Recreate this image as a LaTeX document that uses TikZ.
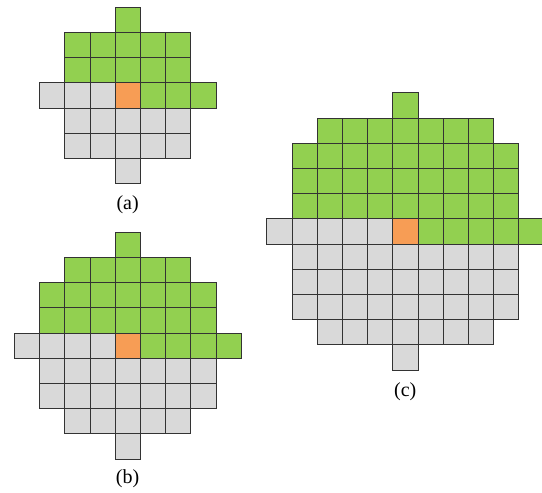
\documentclass[tikz,border=0pt]{standalone}
\usepackage{fontspec}
\setmainfont{Liberation Serif}
\definecolor{cgreen}{HTML}{92D050}
\definecolor{corange}{HTML}{F79D55}
\definecolor{cgray}{HTML}{D9D9D9}
\newcommand\cellrow[6]{%
  \foreach \c in {#4,...,#5}
    \draw[cellbox,fill=#6] ({#1+\c*25.2},{#2+#3*25.2}) rectangle +(25.2,25.2);}
\begin{document}
\begin{tikzpicture}[x=1pt,y=-1pt,
  cellbox/.style={draw=black!80,line width=0.6pt},
  caption/.style={font=\fontsize{20}{24}\selectfont,inner sep=0pt}]
\useasboundingbox (0,0) rectangle (542,493);
% (a)
\cellrow{115}{7}{0}{0}{0}{cgreen}
\cellrow{115}{7}{1}{-2}{2}{cgreen}
\cellrow{115}{7}{2}{-2}{2}{cgreen}
\cellrow{115}{7}{3}{-3}{-1}{cgray}
\cellrow{115}{7}{3}{0}{0}{corange}
\cellrow{115}{7}{3}{1}{3}{cgreen}
\cellrow{115}{7}{4}{-2}{2}{cgray}
\cellrow{115}{7}{5}{-2}{2}{cgray}
\cellrow{115}{7}{6}{0}{0}{cgray}
\node[caption] (la) at (127.6,205) {(a)};
% (b)
\cellrow{115}{232}{0}{0}{0}{cgreen}
\cellrow{115}{232}{1}{-2}{2}{cgreen}
\cellrow{115}{232}{2}{-3}{3}{cgreen}
\cellrow{115}{232}{3}{-3}{3}{cgreen}
\cellrow{115}{232}{4}{-4}{-1}{cgray}
\cellrow{115}{232}{4}{0}{0}{corange}
\cellrow{115}{232}{4}{1}{4}{cgreen}
\cellrow{115}{232}{5}{-3}{3}{cgray}
\cellrow{115}{232}{6}{-3}{3}{cgray}
\cellrow{115}{232}{7}{-2}{2}{cgray}
\cellrow{115}{232}{8}{0}{0}{cgray}
\node[caption] (lb) at (127.6,479) {(b)};
% (c)
\cellrow{392.7}{92.7}{0}{0}{0}{cgreen}
\cellrow{392.7}{92.7}{1}{-3}{3}{cgreen}
\cellrow{392.7}{92.7}{2}{-4}{4}{cgreen}
\cellrow{392.7}{92.7}{3}{-4}{4}{cgreen}
\cellrow{392.7}{92.7}{4}{-4}{4}{cgreen}
\cellrow{392.7}{92.7}{5}{-5}{-1}{cgray}
\cellrow{392.7}{92.7}{5}{0}{0}{corange}
\cellrow{392.7}{92.7}{5}{1}{5}{cgreen}
\cellrow{392.7}{92.7}{6}{-4}{4}{cgray}
\cellrow{392.7}{92.7}{7}{-4}{4}{cgray}
\cellrow{392.7}{92.7}{8}{-4}{4}{cgray}
\cellrow{392.7}{92.7}{9}{-3}{3}{cgray}
\cellrow{392.7}{92.7}{10}{0}{0}{cgray}
\node[caption] (lc) at (405.3,392) {(c)};
\end{tikzpicture}
\end{document}
